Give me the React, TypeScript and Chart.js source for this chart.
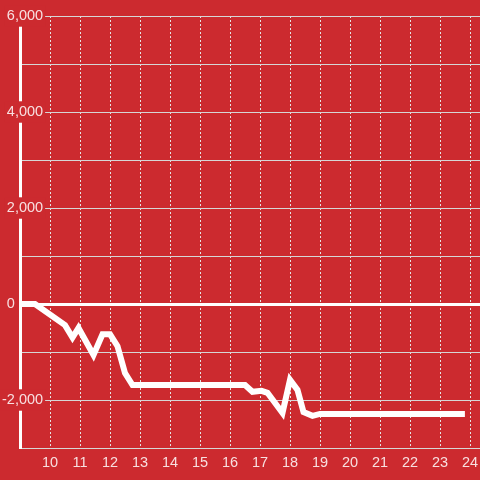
import React, { useEffect, useRef } from 'react';
import { Chart, registerables } from 'chart.js';

Chart.register(...registerables);

// Data (hour of day -> value)
const hours = [9, 9.5, 10.5, 10.75, 10.95, 11.45, 11.75, 12, 12.25, 12.5, 12.75, 16.5, 16.75, 17.05, 17.25, 17.75, 18, 18.25, 18.45, 18.75, 19, 23.83];
const values = [0, 0, -440, -700, -500, -1060, -630, -630, -880, -1440, -1690, -1690, -1830, -1810, -1850, -2270, -1580, -1790, -2250, -2330, -2290, -2290];

// Tick labels
const yLabelValues = [6000, 4000, 2000, 0, -2000];
const xLabelValues = [10, 11, 12, 13, 14, 15, 16, 17, 18, 19, 20, 21, 22, 23, 24];

const BG = '#cc2a2f';
const GRID = '#d6d6d6';
const TEXT = 'rgba(255,255,255,0.85)';
const FONT = { family: 'Liberation Sans, Arial, sans-serif', size: 14.5 };

export default function App() {
  const ref = useRef<HTMLCanvasElement | null>(null);

  useEffect(() => {
    document.body.style.margin = '0';
    const canvas = ref.current;
    if (!canvas) return;
    const chart = new Chart(canvas, {
      type: 'line',
      data: {
        datasets: [
          {
            data: hours.map((h, i) => ({ x: h, y: values[i] })),
            borderColor: '#ffffff',
            borderWidth: 6,
            pointRadius: 0,
            tension: 0,
            fill: false,
          },
        ],
      },
      options: {
        animation: false,
        responsive: false,
        events: [],
        layout: { padding: { top: 16, left: 0, right: 0, bottom: 0 } },
        plugins: { legend: { display: false }, tooltip: { enabled: false } },
        scales: {
          x: {
            type: 'linear',
            min: 9,
            max: 24 + 1 / 3,
            afterFit: (s: any) => {
              s.height = 32;
              s.paddingLeft = 0;
              s.paddingRight = 0;
            },
            ticks: {
              stepSize: 1,
              includeBounds: false,
              autoSkip: false,
              maxRotation: 0,
              padding: 6,
              color: TEXT,
              font: FONT,
              callback: (v: any) => (xLabelValues.includes(Number(v)) ? String(v) : ''),
            },
            grid: { color: '#e4e4e4', lineWidth: 1, drawTicks: false },
            border: { color: GRID, width: 1, dash: [2, 2] },
          },
          y: {
            type: 'linear',
            min: -3000,
            max: 6000,
            afterFit: (s: any) => {
              s.width = 20;
              s.paddingTop = 0;
              s.paddingBottom = 0;
            },
            ticks: {
              stepSize: 1000,
              autoSkip: false,
              mirror: true,
              crossAlign: 'far',
              padding: -18,
              color: TEXT,
              font: FONT,
              showLabelBackdrop: true,
              backdropPadding: 2,
              backdropColor: (ctx: any) => {
                const v = ctx.tick ? ctx.tick.value : null;
                return v !== null && v !== 0 && yLabelValues.includes(v) ? BG : 'rgba(0,0,0,0)';
              },
              callback: (v: any) => {
                const n = Number(v);
                if (!yLabelValues.includes(n)) return '';
                if (n === 0) return '0       ';
                return n.toLocaleString('en-US');
              },
            },
            grid: {
              drawTicks: false,
              color: (ctx: any) => (ctx.tick && ctx.tick.value === 0 ? '#ffffff' : GRID),
              lineWidth: (ctx: any) => (ctx.tick && ctx.tick.value === 0 ? 3 : 1),
            },
            border: { color: '#ffffff', width: 3 },
          },
        },
      },
    });
    return () => chart.destroy();
  }, []);

  return (
    <div style={{ width: 480, height: 480, background: BG }}>
      <canvas ref={ref} width={480} height={480} style={{ display: 'block' }} />
    </div>
  );
}
